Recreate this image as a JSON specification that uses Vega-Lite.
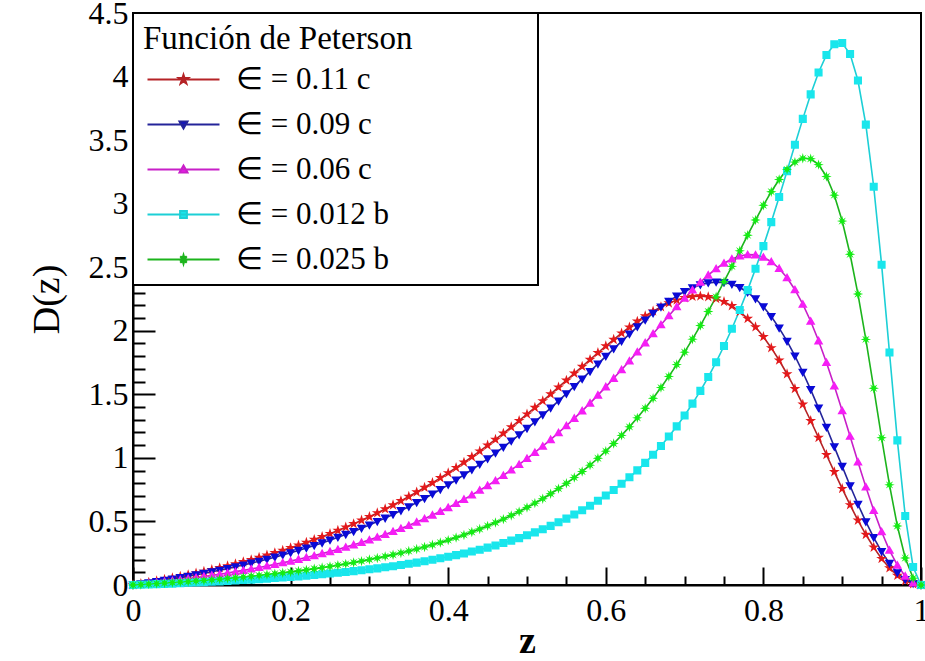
{
"$schema": "https://vega.github.io/schema/vega-lite/v6.json",
"width": 788,
"height": 572,
"autosize": "none",
"padding": {"left": 133, "top": 13, "right": 4, "bottom": 76},
"background": "white",
"config": {
 "view": {"stroke": "black", "strokeWidth": 2},
 "font": "Liberation Serif",
 "axis": {"labelOverlap": false},
 "legend": {"orient": "top-left", "offset": 0, "padding": 10, "fillColor": "white", "strokeColor": "black", "strokeWidth": 2,
  "titleFont": "Liberation Serif", "titleFontSize": 33, "titleFontWeight": "normal", "titleColor": "black", "titlePadding": 8, "titleLimit": 600,
  "labelFont": "Liberation Serif", "labelFontSize": 31, "labelColor": "black", "labelLimit": 400,
  "symbolSize": 64, "symbolOffset": 25, "labelOffset": 37, "rowPadding": 13, "symbolStrokeWidth": 2,
  "symbolFillColor": "white", "symbolStrokeColor": "black", "symbolOpacity": 1}
},
"data": {"values": [
{"z":0,"s":"a","d":0},{"z":0.01,"s":"a","d":0.010},{"z":0.02,"s":"a","d":0.021},{"z":0.03,"s":"a","d":0.032},{"z":0.04,"s":"a","d":0.043},{"z":0.05,"s":"a","d":0.055},{"z":0.06,"s":"a","d":0.067},{"z":0.07,"s":"a","d":0.080},{"z":0.08,"s":"a","d":0.093},{"z":0.09,"s":"a","d":0.106},
{"z":0.1,"s":"a","d":0.120},{"z":0.11,"s":"a","d":0.135},{"z":0.12,"s":"a","d":0.150},{"z":0.13,"s":"a","d":0.165},{"z":0.14,"s":"a","d":0.182},{"z":0.15,"s":"a","d":0.198},{"z":0.16,"s":"a","d":0.216},{"z":0.17,"s":"a","d":0.234},{"z":0.18,"s":"a","d":0.253},{"z":0.19,"s":"a","d":0.272},
{"z":0.2,"s":"a","d":0.292},{"z":0.21,"s":"a","d":0.313},{"z":0.22,"s":"a","d":0.334},{"z":0.23,"s":"a","d":0.357},{"z":0.24,"s":"a","d":0.380},{"z":0.25,"s":"a","d":0.404},{"z":0.26,"s":"a","d":0.429},{"z":0.27,"s":"a","d":0.455},{"z":0.28,"s":"a","d":0.481},{"z":0.29,"s":"a","d":0.509},
{"z":0.3,"s":"a","d":0.537},{"z":0.31,"s":"a","d":0.567},{"z":0.32,"s":"a","d":0.598},{"z":0.33,"s":"a","d":0.629},{"z":0.34,"s":"a","d":0.662},{"z":0.35,"s":"a","d":0.696},{"z":0.36,"s":"a","d":0.731},{"z":0.37,"s":"a","d":0.767},{"z":0.38,"s":"a","d":0.804},{"z":0.39,"s":"a","d":0.843},
{"z":0.4,"s":"a","d":0.882},{"z":0.41,"s":"a","d":0.923},{"z":0.42,"s":"a","d":0.965},{"z":0.43,"s":"a","d":1.008},{"z":0.44,"s":"a","d":1.053},{"z":0.45,"s":"a","d":1.099},{"z":0.46,"s":"a","d":1.145},{"z":0.47,"s":"a","d":1.193},{"z":0.48,"s":"a","d":1.243},{"z":0.49,"s":"a","d":1.293},
{"z":0.5,"s":"a","d":1.344},{"z":0.51,"s":"a","d":1.396},{"z":0.52,"s":"a","d":1.448},{"z":0.53,"s":"a","d":1.502},{"z":0.54,"s":"a","d":1.556},{"z":0.55,"s":"a","d":1.610},{"z":0.56,"s":"a","d":1.665},{"z":0.57,"s":"a","d":1.719},{"z":0.58,"s":"a","d":1.773},{"z":0.59,"s":"a","d":1.827},
{"z":0.6,"s":"a","d":1.880},{"z":0.61,"s":"a","d":1.931},{"z":0.62,"s":"a","d":1.981},{"z":0.63,"s":"a","d":2.028},{"z":0.64,"s":"a","d":2.074},{"z":0.65,"s":"a","d":2.116},{"z":0.66,"s":"a","d":2.154},{"z":0.67,"s":"a","d":2.188},{"z":0.68,"s":"a","d":2.218},{"z":0.69,"s":"a","d":2.241},
{"z":0.7,"s":"a","d":2.259},{"z":0.71,"s":"a","d":2.270},{"z":0.72,"s":"a","d":2.273},{"z":0.73,"s":"a","d":2.267},{"z":0.74,"s":"a","d":2.253},{"z":0.75,"s":"a","d":2.229},{"z":0.76,"s":"a","d":2.196},{"z":0.77,"s":"a","d":2.151},{"z":0.78,"s":"a","d":2.096},{"z":0.79,"s":"a","d":2.030},
{"z":0.8,"s":"a","d":1.953},{"z":0.81,"s":"a","d":1.865},{"z":0.82,"s":"a","d":1.768},{"z":0.83,"s":"a","d":1.660},{"z":0.84,"s":"a","d":1.544},{"z":0.85,"s":"a","d":1.421},{"z":0.86,"s":"a","d":1.292},{"z":0.87,"s":"a","d":1.160},{"z":0.88,"s":"a","d":1.025},{"z":0.89,"s":"a","d":0.890},
{"z":0.9,"s":"a","d":0.758},{"z":0.91,"s":"a","d":0.630},{"z":0.92,"s":"a","d":0.509},{"z":0.93,"s":"a","d":0.397},{"z":0.94,"s":"a","d":0.296},{"z":0.95,"s":"a","d":0.207},{"z":0.96,"s":"a","d":0.134},{"z":0.97,"s":"a","d":0.075},{"z":0.98,"s":"a","d":0.033},{"z":0.99,"s":"a","d":0.008},{"z":1,"s":"a","d":0},
{"z":0,"s":"b","d":0},{"z":0.01,"s":"b","d":0.009},{"z":0.02,"s":"b","d":0.018},{"z":0.03,"s":"b","d":0.027},{"z":0.04,"s":"b","d":0.037},{"z":0.05,"s":"b","d":0.047},{"z":0.06,"s":"b","d":0.058},{"z":0.07,"s":"b","d":0.068},{"z":0.08,"s":"b","d":0.080},{"z":0.09,"s":"b","d":0.091},
{"z":0.1,"s":"b","d":0.104},{"z":0.11,"s":"b","d":0.116},{"z":0.12,"s":"b","d":0.129},{"z":0.13,"s":"b","d":0.143},{"z":0.14,"s":"b","d":0.157},{"z":0.15,"s":"b","d":0.172},{"z":0.16,"s":"b","d":0.187},{"z":0.17,"s":"b","d":0.203},{"z":0.18,"s":"b","d":0.219},{"z":0.19,"s":"b","d":0.236},
{"z":0.2,"s":"b","d":0.254},{"z":0.21,"s":"b","d":0.272},{"z":0.22,"s":"b","d":0.291},{"z":0.23,"s":"b","d":0.311},{"z":0.24,"s":"b","d":0.331},{"z":0.25,"s":"b","d":0.353},{"z":0.26,"s":"b","d":0.375},{"z":0.27,"s":"b","d":0.398},{"z":0.28,"s":"b","d":0.421},{"z":0.29,"s":"b","d":0.446},
{"z":0.3,"s":"b","d":0.472},{"z":0.31,"s":"b","d":0.499},{"z":0.32,"s":"b","d":0.526},{"z":0.33,"s":"b","d":0.555},{"z":0.34,"s":"b","d":0.585},{"z":0.35,"s":"b","d":0.616},{"z":0.36,"s":"b","d":0.648},{"z":0.37,"s":"b","d":0.681},{"z":0.38,"s":"b","d":0.715},{"z":0.39,"s":"b","d":0.751},
{"z":0.4,"s":"b","d":0.788},{"z":0.41,"s":"b","d":0.826},{"z":0.42,"s":"b","d":0.866},{"z":0.43,"s":"b","d":0.907},{"z":0.44,"s":"b","d":0.949},{"z":0.45,"s":"b","d":0.993},{"z":0.46,"s":"b","d":1.038},{"z":0.47,"s":"b","d":1.084},{"z":0.48,"s":"b","d":1.132},{"z":0.49,"s":"b","d":1.182},
{"z":0.5,"s":"b","d":1.232},{"z":0.51,"s":"b","d":1.284},{"z":0.52,"s":"b","d":1.338},{"z":0.53,"s":"b","d":1.392},{"z":0.54,"s":"b","d":1.448},{"z":0.55,"s":"b","d":1.505},{"z":0.56,"s":"b","d":1.562},{"z":0.57,"s":"b","d":1.621},{"z":0.58,"s":"b","d":1.680},{"z":0.59,"s":"b","d":1.739},
{"z":0.6,"s":"b","d":1.799},{"z":0.61,"s":"b","d":1.858},{"z":0.62,"s":"b","d":1.917},{"z":0.63,"s":"b","d":1.974},{"z":0.64,"s":"b","d":2.031},{"z":0.65,"s":"b","d":2.085},{"z":0.66,"s":"b","d":2.138},{"z":0.67,"s":"b","d":2.187},{"z":0.68,"s":"b","d":2.232},{"z":0.69,"s":"b","d":2.273},
{"z":0.7,"s":"b","d":2.309},{"z":0.71,"s":"b","d":2.339},{"z":0.72,"s":"b","d":2.362},{"z":0.73,"s":"b","d":2.377},{"z":0.74,"s":"b","d":2.383},{"z":0.75,"s":"b","d":2.380},{"z":0.76,"s":"b","d":2.366},{"z":0.77,"s":"b","d":2.340},{"z":0.78,"s":"b","d":2.303},{"z":0.79,"s":"b","d":2.252},
{"z":0.8,"s":"b","d":2.189},{"z":0.81,"s":"b","d":2.112},{"z":0.82,"s":"b","d":2.021},{"z":0.83,"s":"b","d":1.918},{"z":0.84,"s":"b","d":1.802},{"z":0.85,"s":"b","d":1.674},{"z":0.86,"s":"b","d":1.537},{"z":0.87,"s":"b","d":1.392},{"z":0.88,"s":"b","d":1.241},{"z":0.89,"s":"b","d":1.087},
{"z":0.9,"s":"b","d":0.933},{"z":0.91,"s":"b","d":0.781},{"z":0.92,"s":"b","d":0.635},{"z":0.93,"s":"b","d":0.498},{"z":0.94,"s":"b","d":0.373},{"z":0.95,"s":"b","d":0.263},{"z":0.96,"s":"b","d":0.170},{"z":0.97,"s":"b","d":0.096},{"z":0.98,"s":"b","d":0.043},{"z":0.99,"s":"b","d":0.011},{"z":1,"s":"b","d":0},
{"z":0,"s":"c","d":0},{"z":0.01,"s":"c","d":0.006},{"z":0.02,"s":"c","d":0.013},{"z":0.03,"s":"c","d":0.020},{"z":0.04,"s":"c","d":0.027},{"z":0.05,"s":"c","d":0.034},{"z":0.06,"s":"c","d":0.042},{"z":0.07,"s":"c","d":0.050},{"z":0.08,"s":"c","d":0.058},{"z":0.09,"s":"c","d":0.067},
{"z":0.1,"s":"c","d":0.076},{"z":0.11,"s":"c","d":0.085},{"z":0.12,"s":"c","d":0.095},{"z":0.13,"s":"c","d":0.105},{"z":0.14,"s":"c","d":0.115},{"z":0.15,"s":"c","d":0.126},{"z":0.16,"s":"c","d":0.138},{"z":0.17,"s":"c","d":0.150},{"z":0.18,"s":"c","d":0.162},{"z":0.19,"s":"c","d":0.175},
{"z":0.2,"s":"c","d":0.188},{"z":0.21,"s":"c","d":0.202},{"z":0.22,"s":"c","d":0.216},{"z":0.23,"s":"c","d":0.231},{"z":0.24,"s":"c","d":0.247},{"z":0.25,"s":"c","d":0.263},{"z":0.26,"s":"c","d":0.280},{"z":0.27,"s":"c","d":0.298},{"z":0.28,"s":"c","d":0.316},{"z":0.29,"s":"c","d":0.335},
{"z":0.3,"s":"c","d":0.355},{"z":0.31,"s":"c","d":0.376},{"z":0.32,"s":"c","d":0.398},{"z":0.33,"s":"c","d":0.421},{"z":0.34,"s":"c","d":0.444},{"z":0.35,"s":"c","d":0.469},{"z":0.36,"s":"c","d":0.495},{"z":0.37,"s":"c","d":0.522},{"z":0.38,"s":"c","d":0.550},{"z":0.39,"s":"c","d":0.579},
{"z":0.4,"s":"c","d":0.609},{"z":0.41,"s":"c","d":0.641},{"z":0.42,"s":"c","d":0.674},{"z":0.43,"s":"c","d":0.709},{"z":0.44,"s":"c","d":0.745},{"z":0.45,"s":"c","d":0.782},{"z":0.46,"s":"c","d":0.821},{"z":0.47,"s":"c","d":0.862},{"z":0.48,"s":"c","d":0.905},{"z":0.49,"s":"c","d":0.949},
{"z":0.5,"s":"c","d":0.995},{"z":0.51,"s":"c","d":1.043},{"z":0.52,"s":"c","d":1.092},{"z":0.53,"s":"c","d":1.144},{"z":0.54,"s":"c","d":1.198},{"z":0.55,"s":"c","d":1.253},{"z":0.56,"s":"c","d":1.311},{"z":0.57,"s":"c","d":1.370},{"z":0.58,"s":"c","d":1.431},{"z":0.59,"s":"c","d":1.494},
{"z":0.6,"s":"c","d":1.559},{"z":0.61,"s":"c","d":1.626},{"z":0.62,"s":"c","d":1.694},{"z":0.63,"s":"c","d":1.763},{"z":0.64,"s":"c","d":1.834},{"z":0.65,"s":"c","d":1.905},{"z":0.66,"s":"c","d":1.977},{"z":0.67,"s":"c","d":2.048},{"z":0.68,"s":"c","d":2.119},{"z":0.69,"s":"c","d":2.189},
{"z":0.7,"s":"c","d":2.256},{"z":0.71,"s":"c","d":2.321},{"z":0.72,"s":"c","d":2.382},{"z":0.73,"s":"c","d":2.438},{"z":0.74,"s":"c","d":2.488},{"z":0.75,"s":"c","d":2.531},{"z":0.76,"s":"c","d":2.565},{"z":0.77,"s":"c","d":2.588},{"z":0.78,"s":"c","d":2.599},{"z":0.79,"s":"c","d":2.597},
{"z":0.8,"s":"c","d":2.579},{"z":0.81,"s":"c","d":2.543},{"z":0.82,"s":"c","d":2.490},{"z":0.83,"s":"c","d":2.417},{"z":0.84,"s":"c","d":2.323},{"z":0.85,"s":"c","d":2.209},{"z":0.86,"s":"c","d":2.075},{"z":0.87,"s":"c","d":1.921},{"z":0.88,"s":"c","d":1.751},{"z":0.89,"s":"c","d":1.566},
{"z":0.9,"s":"c","d":1.371},{"z":0.91,"s":"c","d":1.170},{"z":0.92,"s":"c","d":0.968},{"z":0.93,"s":"c","d":0.772},{"z":0.94,"s":"c","d":0.587},{"z":0.95,"s":"c","d":0.419},{"z":0.96,"s":"c","d":0.273},{"z":0.97,"s":"c","d":0.156},{"z":0.98,"s":"c","d":0.070},{"z":0.99,"s":"c","d":0.017},{"z":1,"s":"c","d":0},
{"z":0,"s":"d","d":0},{"z":0.01,"s":"d","d":0.002},{"z":0.02,"s":"d","d":0.004},{"z":0.03,"s":"d","d":0.007},{"z":0.04,"s":"d","d":0.009},{"z":0.05,"s":"d","d":0.011},{"z":0.06,"s":"d","d":0.014},{"z":0.07,"s":"d","d":0.017},{"z":0.08,"s":"d","d":0.019},{"z":0.09,"s":"d","d":0.022},
{"z":0.1,"s":"d","d":0.025},{"z":0.11,"s":"d","d":0.028},{"z":0.12,"s":"d","d":0.032},{"z":0.13,"s":"d","d":0.035},{"z":0.14,"s":"d","d":0.039},{"z":0.15,"s":"d","d":0.042},{"z":0.16,"s":"d","d":0.046},{"z":0.17,"s":"d","d":0.050},{"z":0.18,"s":"d","d":0.055},{"z":0.19,"s":"d","d":0.059},
{"z":0.2,"s":"d","d":0.064},{"z":0.21,"s":"d","d":0.068},{"z":0.22,"s":"d","d":0.073},{"z":0.23,"s":"d","d":0.079},{"z":0.24,"s":"d","d":0.084},{"z":0.25,"s":"d","d":0.090},{"z":0.26,"s":"d","d":0.096},{"z":0.27,"s":"d","d":0.103},{"z":0.28,"s":"d","d":0.109},{"z":0.29,"s":"d","d":0.116},
{"z":0.3,"s":"d","d":0.124},{"z":0.31,"s":"d","d":0.131},{"z":0.32,"s":"d","d":0.140},{"z":0.33,"s":"d","d":0.148},{"z":0.34,"s":"d","d":0.157},{"z":0.35,"s":"d","d":0.167},{"z":0.36,"s":"d","d":0.176},{"z":0.37,"s":"d","d":0.187},{"z":0.38,"s":"d","d":0.198},{"z":0.39,"s":"d","d":0.210},
{"z":0.4,"s":"d","d":0.222},{"z":0.41,"s":"d","d":0.235},{"z":0.42,"s":"d","d":0.248},{"z":0.43,"s":"d","d":0.263},{"z":0.44,"s":"d","d":0.278},{"z":0.45,"s":"d","d":0.294},{"z":0.46,"s":"d","d":0.311},{"z":0.47,"s":"d","d":0.330},{"z":0.48,"s":"d","d":0.349},{"z":0.49,"s":"d","d":0.369},
{"z":0.5,"s":"d","d":0.391},{"z":0.51,"s":"d","d":0.414},{"z":0.52,"s":"d","d":0.439},{"z":0.53,"s":"d","d":0.465},{"z":0.54,"s":"d","d":0.493},{"z":0.55,"s":"d","d":0.522},{"z":0.56,"s":"d","d":0.554},{"z":0.57,"s":"d","d":0.588},{"z":0.58,"s":"d","d":0.624},{"z":0.59,"s":"d","d":0.663},
{"z":0.6,"s":"d","d":0.704},{"z":0.61,"s":"d","d":0.748},{"z":0.62,"s":"d","d":0.796},{"z":0.63,"s":"d","d":0.847},{"z":0.64,"s":"d","d":0.902},{"z":0.65,"s":"d","d":0.961},{"z":0.66,"s":"d","d":1.025},{"z":0.67,"s":"d","d":1.094},{"z":0.68,"s":"d","d":1.168},{"z":0.69,"s":"d","d":1.248},
{"z":0.7,"s":"d","d":1.334},{"z":0.71,"s":"d","d":1.427},{"z":0.72,"s":"d","d":1.527},{"z":0.73,"s":"d","d":1.636},{"z":0.74,"s":"d","d":1.753},{"z":0.75,"s":"d","d":1.880},{"z":0.76,"s":"d","d":2.016},{"z":0.77,"s":"d","d":2.163},{"z":0.78,"s":"d","d":2.320},{"z":0.79,"s":"d","d":2.488},
{"z":0.8,"s":"d","d":2.666},{"z":0.81,"s":"d","d":2.855},{"z":0.82,"s":"d","d":3.053},{"z":0.83,"s":"d","d":3.256},{"z":0.84,"s":"d","d":3.463},{"z":0.85,"s":"d","d":3.667},{"z":0.86,"s":"d","d":3.860},{"z":0.87,"s":"d","d":4.032},{"z":0.88,"s":"d","d":4.170},{"z":0.89,"s":"d","d":4.254},
{"z":0.9,"s":"d","d":4.264},{"z":0.91,"s":"d","d":4.177},{"z":0.92,"s":"d","d":3.969},{"z":0.93,"s":"d","d":3.622},{"z":0.94,"s":"d","d":3.133},{"z":0.95,"s":"d","d":2.520},{"z":0.96,"s":"d","d":1.829},{"z":0.97,"s":"d","d":1.138},{"z":0.98,"s":"d","d":0.543},{"z":0.99,"s":"d","d":0.141},{"z":1,"s":"d","d":0},
{"z":0,"s":"e","d":0},{"z":0.01,"s":"e","d":0.003},{"z":0.02,"s":"e","d":0.007},{"z":0.03,"s":"e","d":0.011},{"z":0.04,"s":"e","d":0.015},{"z":0.05,"s":"e","d":0.019},{"z":0.06,"s":"e","d":0.023},{"z":0.07,"s":"e","d":0.027},{"z":0.08,"s":"e","d":0.032},{"z":0.09,"s":"e","d":0.036},
{"z":0.1,"s":"e","d":0.041},{"z":0.11,"s":"e","d":0.046},{"z":0.12,"s":"e","d":0.052},{"z":0.13,"s":"e","d":0.057},{"z":0.14,"s":"e","d":0.063},{"z":0.15,"s":"e","d":0.069},{"z":0.16,"s":"e","d":0.075},{"z":0.17,"s":"e","d":0.082},{"z":0.18,"s":"e","d":0.089},{"z":0.19,"s":"e","d":0.096},
{"z":0.2,"s":"e","d":0.103},{"z":0.21,"s":"e","d":0.111},{"z":0.22,"s":"e","d":0.119},{"z":0.23,"s":"e","d":0.128},{"z":0.24,"s":"e","d":0.137},{"z":0.25,"s":"e","d":0.146},{"z":0.26,"s":"e","d":0.156},{"z":0.27,"s":"e","d":0.166},{"z":0.28,"s":"e","d":0.177},{"z":0.29,"s":"e","d":0.188},
{"z":0.3,"s":"e","d":0.200},{"z":0.31,"s":"e","d":0.212},{"z":0.32,"s":"e","d":0.225},{"z":0.33,"s":"e","d":0.238},{"z":0.34,"s":"e","d":0.252},{"z":0.35,"s":"e","d":0.267},{"z":0.36,"s":"e","d":0.283},{"z":0.37,"s":"e","d":0.299},{"z":0.38,"s":"e","d":0.316},{"z":0.39,"s":"e","d":0.334},
{"z":0.4,"s":"e","d":0.353},{"z":0.41,"s":"e","d":0.373},{"z":0.42,"s":"e","d":0.394},{"z":0.43,"s":"e","d":0.417},{"z":0.44,"s":"e","d":0.440},{"z":0.45,"s":"e","d":0.465},{"z":0.46,"s":"e","d":0.491},{"z":0.47,"s":"e","d":0.518},{"z":0.48,"s":"e","d":0.547},{"z":0.49,"s":"e","d":0.577},
{"z":0.5,"s":"e","d":0.610},{"z":0.51,"s":"e","d":0.644},{"z":0.52,"s":"e","d":0.679},{"z":0.53,"s":"e","d":0.718},{"z":0.54,"s":"e","d":0.758},{"z":0.55,"s":"e","d":0.800},{"z":0.56,"s":"e","d":0.845},{"z":0.57,"s":"e","d":0.893},{"z":0.58,"s":"e","d":0.943},{"z":0.59,"s":"e","d":0.997},
{"z":0.6,"s":"e","d":1.053},{"z":0.61,"s":"e","d":1.113},{"z":0.62,"s":"e","d":1.177},{"z":0.63,"s":"e","d":1.244},{"z":0.64,"s":"e","d":1.315},{"z":0.65,"s":"e","d":1.390},{"z":0.66,"s":"e","d":1.469},{"z":0.67,"s":"e","d":1.553},{"z":0.68,"s":"e","d":1.641},{"z":0.69,"s":"e","d":1.734},
{"z":0.7,"s":"e","d":1.832},{"z":0.71,"s":"e","d":1.934},{"z":0.72,"s":"e","d":2.041},{"z":0.73,"s":"e","d":2.152},{"z":0.74,"s":"e","d":2.267},{"z":0.75,"s":"e","d":2.386},{"z":0.76,"s":"e","d":2.507},{"z":0.77,"s":"e","d":2.629},{"z":0.78,"s":"e","d":2.752},{"z":0.79,"s":"e","d":2.871},
{"z":0.8,"s":"e","d":2.987},{"z":0.81,"s":"e","d":3.094},{"z":0.82,"s":"e","d":3.190},{"z":0.83,"s":"e","d":3.270},{"z":0.84,"s":"e","d":3.327},{"z":0.85,"s":"e","d":3.357},{"z":0.86,"s":"e","d":3.353},{"z":0.87,"s":"e","d":3.307},{"z":0.88,"s":"e","d":3.214},{"z":0.89,"s":"e","d":3.067},
{"z":0.9,"s":"e","d":2.863},{"z":0.91,"s":"e","d":2.602},{"z":0.92,"s":"e","d":2.289},{"z":0.93,"s":"e","d":1.932},{"z":0.94,"s":"e","d":1.548},{"z":0.95,"s":"e","d":1.158},{"z":0.96,"s":"e","d":0.788},{"z":0.97,"s":"e","d":0.464},{"z":0.98,"s":"e","d":0.212},{"z":0.99,"s":"e","d":0.054},{"z":1,"s":"e","d":0}
]},
"layer": [
{
"mark": {"type": "line", "strokeWidth": 1.6, "clip": false},
"encoding": {
"x": {"field": "z", "type": "quantitative", "scale": {"domain": [0, 1], "nice": false, "zero": false},
 "axis": {"title": "z", "tickCount": 100, "values": [0,0.05,0.1,0.15,0.2,0.25,0.3,0.35,0.4,0.45,0.5,0.55,0.6,0.65,0.7,0.75,0.8,0.85,0.9,0.95,1],
  "labelExpr": "abs(datum.value*5-round(datum.value*5))<0.001 ? format(datum.value,'~g') : ''",
  "labelOverlap": false, "labelFlush": false, "labelBound": false,
  "labelFont": "Liberation Serif", "labelFontSize": 32, "labelColor": "black", "labelPadding": 28,
  "tickSize": {"expr": "abs(datum.value*5-round(datum.value*5))<0.001 ? -18 : -9"},
  "tickColor": "black", "tickWidth": 2, "domainColor": "black", "domainWidth": 2, "grid": false,
  "titleFont": "Liberation Serif", "titleFontSize": 38, "titleFontWeight": "bold", "titleColor": "black", "titlePadding": -13}},
"y": {"field": "d", "type": "quantitative", "scale": {"domain": [0, 4.5], "nice": false},
 "axis": {"title": "D(z)", "tickCount": 100, "values": [0,0.1,0.2,0.3,0.4,0.5,0.6,0.7,0.8,0.9,1,1.1,1.2,1.3,1.4,1.5,1.6,1.7,1.8,1.9,2,2.1,2.2,2.3,2.4,2.5,2.6,2.7,2.8,2.9,3,3.1,3.2,3.3,3.4,3.5,3.6,3.7,3.8,3.9,4,4.1,4.2,4.3,4.4,4.5],
  "labelExpr": "abs(datum.value*2-round(datum.value*2))<0.001 ? format(datum.value,'~g') : ''",
  "labelOverlap": false, "labelFlush": false, "labelBound": false,
  "labelFont": "Liberation Serif", "labelColor": "black", "labelPadding": 27,
  "labelFontSize": {"expr": "abs(datum.value*2-round(datum.value*2))<0.001 ? 32 : 0"},
  "tickSize": {"expr": "abs(datum.value*2-round(datum.value*2))<0.001 ? -22 : -12"},
  "tickColor": "black", "tickWidth": 2, "domainColor": "black", "domainWidth": 2, "grid": false,
  "titleFont": "Liberation Serif", "titleFontSize": 38, "titleFontWeight": "normal", "titleColor": "black", "titlePadding": 22}},
"stroke": {"field": "s", "type": "nominal",
 "scale": {"domain": ["a","b","c","d","e"], "range": ["#b52326","#24249a","#c81fc8","#1ccfd6","#1cb41c"]},
 "legend": {"title": "Función de Peterson\u00a0\u00a0\u00a0\u00a0\u00a0\u00a0\u00a0\u00a0\u00a0\u00a0\u00a0\u00a0\u00a0\u00a0\u200b",
  "labelExpr": "datum.value==='a' ? '∈ = 0.11 c' : datum.value==='b' ? '∈ = 0.09 c' : datum.value==='c' ? '∈ = 0.06 c' : datum.value==='d' ? '∈ = 0.012 b' : '∈ = 0.025 b'"}}
}
},
{
"mark": {"type": "point", "filled": true, "opacity": 1, "size": 90, "clip": false},
"encoding": {
"x": {"field": "z", "type": "quantitative"},
"y": {"field": "d", "type": "quantitative"},
"fill": {"field": "s", "type": "nominal", "scale": {"domain": ["a","b","c","d","e"], "range": ["#e3191b","#0a0ad6","#f51ef5","#19e6ec","#14ec14"]},
 "legend": {"title": "Función de Peterson\u00a0\u00a0\u00a0\u00a0\u00a0\u00a0\u00a0\u00a0\u00a0\u00a0\u00a0\u00a0\u00a0\u00a0\u200b",
  "labelExpr": "datum.value==='a' ? '∈ = 0.11 c' : datum.value==='b' ? '∈ = 0.09 c' : datum.value==='c' ? '∈ = 0.06 c' : datum.value==='d' ? '∈ = 0.012 b' : '∈ = 0.025 b'"}},
"shape": {"field": "s", "type": "nominal", "scale": {"domain": ["a","b","c","d","e"], "range": [
 "M-9,0H9M0,-1.2L0.27,-0.371L1.141,-0.371L0.436,0.142L0.706,0.971L0,0.458L-0.706,0.971L-0.436,0.142L-1.141,-0.371L-0.27,-0.371Z",
 "M-9,0H9M-1,-0.75L1,-0.75L0,1Z",
 "M-9,0H9M-1,0.75L1,0.75L0,-1Z",
 "M-9,0H9M-0.85,-0.85H0.85V0.85H-0.85Z",
 "M-9,0H9M0,-1.1L0.2,-0.4L0.78,-0.78L0.4,-0.2L1.1,0L0.4,0.2L0.78,0.78L0.2,0.4L0,1.1L-0.2,0.4L-0.78,0.78L-0.4,0.2L-1.1,0L-0.4,-0.2L-0.78,-0.78L-0.2,-0.4Z"]},
 "legend": {"title": "Función de Peterson\u00a0\u00a0\u00a0\u00a0\u00a0\u00a0\u00a0\u00a0\u00a0\u00a0\u00a0\u00a0\u00a0\u00a0\u200b",
  "labelExpr": "datum.value==='a' ? '∈ = 0.11 c' : datum.value==='b' ? '∈ = 0.09 c' : datum.value==='c' ? '∈ = 0.06 c' : datum.value==='d' ? '∈ = 0.012 b' : '∈ = 0.025 b'"}}
}
}
]
}
